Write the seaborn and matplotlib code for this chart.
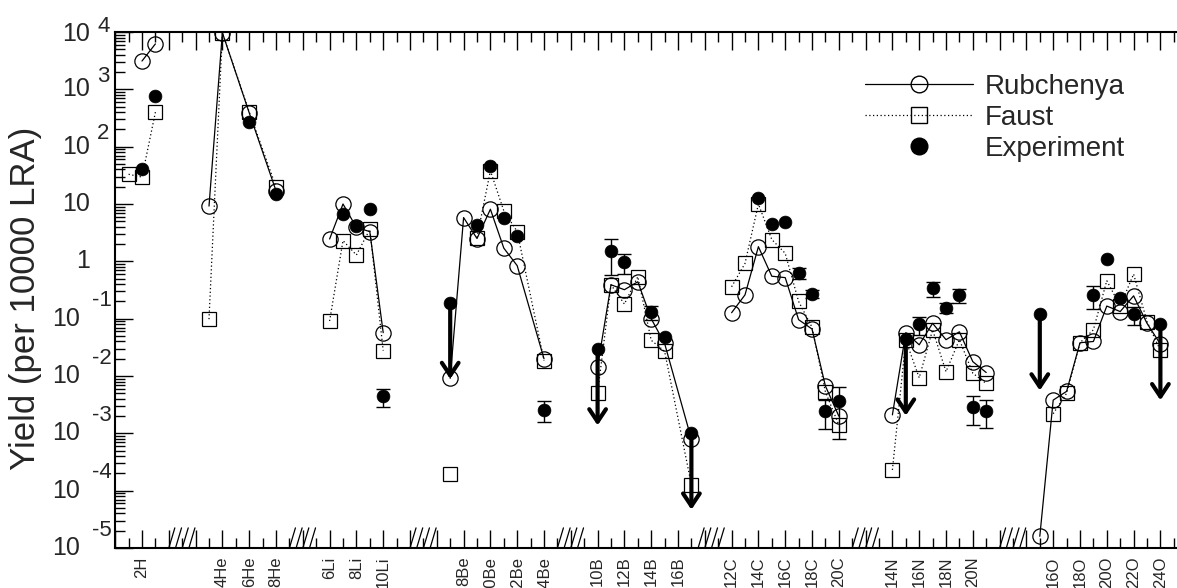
import matplotlib
matplotlib.use("Agg")
import matplotlib.pyplot as plt
import matplotlib.transforms as mtransforms
from matplotlib.lines import Line2D
from matplotlib.ticker import FixedLocator, LogLocator, NullFormatter
import seaborn as sns
import numpy as np
import pandas as pd

nan = np.nan

# position of each isotope on the mass axis (elements separated by gaps)
pos = [1, 2, 3,
       7, 8, 10, 12,
       16, 17, 18, 19, 20,
       25, 26, 27, 28, 29, 30, 32,
       36, 37, 38, 39, 40, 41, 43,
       46, 47, 48, 49, 50, 51, 52, 53, 54,
       58, 59, 60, 61, 62, 63, 64, 65,
       69, 70, 71, 72, 73, 74, 75, 76, 77, 78]
element = (["H"] * 3 + ["He"] * 4 + ["Li"] * 5 + ["Be"] * 7 + ["B"] * 7
           + ["C"] * 9 + ["N"] * 8 + ["O"] * 10)

rub = [nan, 3120, 6200,
       9.2, 9700, 390, 17,
       2.45, 10, 3.9, 3.3, 0.057,
       0.0091, 5.8, 2.5, 8.1, 1.7, 0.84, 0.020,
       0.0146, 0.39, 0.32, 0.44, 0.10, 0.037, 7.9e-4,
       0.127, 0.26, 1.8, 0.55, 0.52, 0.096, 0.066, 0.0067, 0.002,
       0.0021, 0.057, 0.035, 0.083, 0.043, 0.059, 0.0178, 0.0115,
       1.6e-5, 0.0038, 0.0054, 0.038, 0.040, 0.166, 0.133, 0.25, 0.083, 0.036]

faust = [33, 29.5, 400,
         0.098, 9700, 405, 20,
         0.091, 2.3, 1.29, 3.6, 0.0277,
         1.93e-4, nan, 2.6, 38, 7.6, 3.3, 0.0186,
         0.005, 0.39, 0.18, 0.54, 0.042, 0.027, 1.26e-4,
         0.36, 0.92, 10, 2.4, 1.38, 0.2, 0.071, 0.0053, 0.0014,
         2.3e-4, 0.042, 0.0093, 0.064, 0.0119, 0.043, 0.0112, 0.0074,
         nan, 0.0022, 0.005, 0.038, 0.064, 0.46, 0.166, 0.6, 0.089, 0.028]

experiment = [nan, 41, 760,
              nan, nan, 270, 14.9,
              nan, 6.6, 4.1, 8.2, 0.0044,
              0.19, nan, 4.3, 46, 5.8, 2.8, 0.0026,
              0.0295, 1.53, 0.98, nan, 0.129, 0.047, 0.001,
              nan, nan, 12.5, 4.4, 4.9, 0.63, 0.27, 0.0025, 0.0036,
              nan, 0.0437, 0.08, 0.34, 0.155, 0.26, 0.0029, 0.0025,
              0.12, nan, nan, nan, 0.26, 1.08, 0.226, 0.12, nan, 0.081]

exp_err = [0, 0, 0,
           0, 0, 0, 0,
           0, 0, 0, 0, 0.0015,
           0, 0, 0, 0, 0, 0, 0.001,
           0, 0.95, 0.38, 0, 0.035, 0, 0,
           0, 0, 0, 0, 0, 0.14, 0.04, 0.0013, 0.0028,
           0, 0, 0.028, 0.1, 0.03, 0.07, 0.0015, 0.00125,
           0, 0, 0, 0, 0.115, 0, 0, 0.043, 0, 0]

# upper limits (drawn as arrows)
exp_limit = [False] * len(pos)
for p in [25, 36, 43, 59, 69, 78]:
    exp_limit[pos.index(p)] = True

tick_pos = [2, 8, 10, 12, 16, 18, 20, 26, 28, 30, 32, 36, 38, 40, 42,
            46, 48, 50, 52, 54, 58, 60, 62, 64, 70, 72, 74, 76, 78]
tick_names = ["2H", "4He", "6He", "8He", "6Li", "8Li", "10Li", "8Be", "10Be",
              "12Be", "14Be", "10B", "12B", "14B", "16B", "12C", "14C", "16C",
              "18C", "20C", "14N", "16N", "18N", "20N", "16O", "18O", "20O",
              "22O", "24O"]
breaks = [4, 13, 22, 33, 43.5, 55, 66]

df = pd.DataFrame(dict(pos=pos, element=element, rub=rub, faust=faust,
                       exp=experiment, err=exp_err, limit=exp_limit))

sns.set_style("ticks")
plt.rcParams["font.family"] = ["Liberation Sans", "DejaVu Sans"]

fig = plt.figure(figsize=(11.77, 5.88), dpi=100)
ax = fig.add_axes([115.2 / 1177, 40 / 588, 1072 / 1177, 516 / 588])

for el, g in df.groupby("element", sort=False):
    ax.plot(g.pos, g.faust, ls=(0, (1, 2)), lw=0.9, color="k", marker="s",
            ms=9.5, mfc="none", mec="k", mew=0.9)
    ax.plot(g.pos, g.rub, ls="-", lw=0.9, color="k", marker="o",
            ms=11, mfc="none", mec="k", mew=0.9)

e = df[df.err > 0]
ax.errorbar(e.pos, e.exp, yerr=e.err, fmt="none", ecolor="k", elinewidth=1,
            capsize=5, capthick=1, zorder=4)

for _, r in df[df.limit].iterrows():
    ax.annotate("", xy=(r.pos, r.exp / 21.5), xytext=(r.pos, r.exp),
                arrowprops=dict(arrowstyle="->,head_length=0.45,head_width=0.3",
                                lw=3, color="k", mutation_scale=20,
                                shrinkA=0, shrinkB=0), zorder=4)

sns.scatterplot(data=df, x="pos", y="exp", color="k", s=85, edgecolor="k",
                linewidth=0.5, zorder=5, ax=ax, legend=False)

# axis break marks
xt = ax.get_xaxis_transform()
for b in breaks:
    for k in range(4):
        ax.plot([b + k * 0.5, b + k * 0.5 + 0.45], [0, 0.039], color="k",
                lw=0.9, transform=xt, clip_on=False)

ax.set_yscale("log")
ax.set_xlim(0, 80)
ax.set_ylim(1e-5, 1e4)
ax.set_xlabel("")
ax.set_ylabel("")

majors = list(range(0, 80, 2))
names = dict(zip(tick_pos, tick_names))
ax.xaxis.set_major_locator(FixedLocator(majors))
ax.xaxis.set_minor_locator(FixedLocator(range(0, 80)))
ax.set_xticklabels([names.get(t, "") for t in majors], rotation=90, fontsize=12)
ax.yaxis.set_major_locator(LogLocator(base=10, numticks=20))
ax.yaxis.set_minor_locator(LogLocator(base=10, subs=np.arange(2, 10), numticks=20))
ax.yaxis.set_major_formatter(NullFormatter())
ax.yaxis.set_minor_formatter(NullFormatter())
ax.tick_params(which="both", direction="in", top=True, bottom=True,
               left=True, right=False, color="k")
ax.tick_params(which="major", length=13, width=1)
ax.tick_params(which="minor", length=7, width=1)
ax.tick_params(axis="x", pad=6)
ax.spines["right"].set_visible(False)
for s in ["left", "bottom", "top"]:
    ax.spines[s].set_linewidth(1.5)
    ax.spines[s].set_color("k")

# y tick labels written as 10 with a raised exponent
yt = ax.get_yaxis_transform()
for p in range(-5, 5):
    v = 10.0 ** p
    if p == 0 or p == 1:
        t = mtransforms.offset_copy(yt, fig=fig, x=-25, y=0, units="dots")
        ax.text(0, v, "1" if p == 0 else "10", transform=t, ha="right",
                va="center", fontsize=18)
        continue
    base_dx = -25 if p > 0 else -35
    exp_dx = -18 if p > 0 else -23
    raise_dy = 5 if p == 4 else (13 if p > 0 else 18)
    tb = mtransforms.offset_copy(yt, fig=fig, x=base_dx, y=-2 if p == 4 else 0,
                                 units="dots")
    ax.text(0, v, "10", transform=tb, ha="right", va="center", fontsize=18)
    te = mtransforms.offset_copy(yt, fig=fig, x=exp_dx, y=raise_dy, units="dots")
    ax.text(0, v, str(p), transform=te, ha="left", va="center", fontsize=16)

fig.text(26 / 1177, 1 - 298 / 588, "Yield (per 10000 LRA)", rotation=90,
         fontsize=25, ha="center", va="center")

handles = [
    Line2D([], [], color="k", lw=0.9, marker="o", ms=12, mfc="none", mec="k"),
    Line2D([], [], color="k", lw=0.9, ls=(0, (1, 2)), marker="s", ms=12,
           mfc="none", mec="k"),
    Line2D([], [], color="k", ls="none", marker="o", ms=12, mfc="k", mec="k"),
]
ax.legend(handles, ["Rubchenya", "Faust", "Experiment"], loc="upper left",
          bbox_to_anchor=(865 / 1177, 1 - 74 / 588),
          bbox_transform=fig.transFigure, frameon=False, fontsize=20,
          handlelength=3.9, handletextpad=0.4, labelspacing=0.18,
          borderpad=0, borderaxespad=0)

fig.savefig("out.png", dpi=100)
